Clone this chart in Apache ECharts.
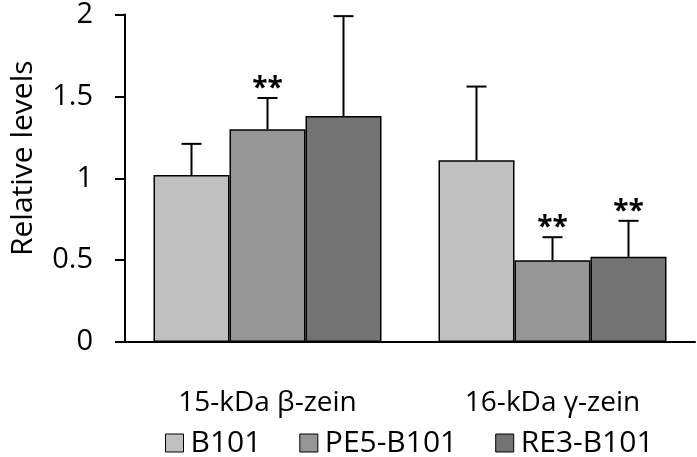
<!DOCTYPE html>
<html><head><meta charset="utf-8">
<script src="https://cdn.jsdelivr.net/npm/echarts@6/dist/echarts.min.js"></script>
<style>html,body{margin:0;padding:0;background:#fff}#c{width:697px;height:457px}</style>
</head><body><div id="c"></div>
<script>
const categories = ['15-kDa β-zein', '16-kDa γ-zein'];
const seriesNames = ['B101', 'PE5-B101', 'RE3-B101'];
const b101 = [1.02, 1.11];
const pe5 = [1.30, 0.50];
const re3 = [1.38, 0.52];
const b101Err = [0.19, 0.45];
const pe5Err = [0.19, 0.14];
const re3Err = [0.61, 0.22];
const b101Sig = ['', ''];
const pe5Sig = ['**', '**'];
const re3Sig = ['', '**'];
const yTicks = [0, 0.5, 1, 1.5, 2];

const colors = ['#c0c0c0', '#969696', '#737373'];
const vals = [b101, pe5, re3];
const errs = [b101Err, pe5Err, re3Err];
const sigs = [b101Sig, pe5Sig, re3Sig];
const FONT = 'Open Sans';

const chart = echarts.init(document.getElementById('c'));
const series = [];
vals.forEach((v, i) => {
  series.push({
    name: seriesNames[i], type: 'bar', data: v,
    barGap: 0, barCategoryGap: '20%',
    itemStyle: { color: colors[i], borderColor: '#000', borderWidth: 1.5 },
    emphasis: { disabled: true }
  });
});
vals.forEach((v, i) => {
  series.push({
    type: 'custom', silent: true, z: 5,
    data: v.map((val, k) => [k, val, errs[i][k]]),
    renderItem: function (params, api) {
      const k = api.value(0);
      const val = api.value(1);
      const e = api.value(2);
      const sig = sigs[i][k];
      const band = api.size([1, 0])[0];
      const bw = band * 0.8 / 3;
      const base = api.coord([k, val]);
      const top = api.coord([k, val + e]);
      const x = base[0] + (i - 1) * bw;
      const children = [
        { type: 'line', shape: { x1: x, y1: base[1], x2: x, y2: top[1] }, style: { stroke: '#000', lineWidth: 2 } },
        { type: 'line', shape: { x1: x - 10, y1: top[1], x2: x + 10, y2: top[1] }, style: { stroke: '#000', lineWidth: 2 } }
      ];
      if (sig) {
        children.push({ type: 'text', style: { text: sig, x: x, y: top[1] + 5, align: 'center', verticalAlign: 'bottom', font: 'bold 28px ' + FONT, fill: '#000' } });
      }
      return { type: 'group', children: children };
    }
  });
});

chart.setOption({
  animation: false,
  grid: { left: 117, right: 2, top: 13, bottom: 115, containLabel: false },
  legend: {
    data: seriesNames, top: 423, left: 160, itemWidth: 18, itemHeight: 18, itemGap: 38,
    icon: 'rect',
    itemStyle: { borderColor: '#000', borderWidth: 1 },
    textStyle: { fontFamily: FONT, fontSize: 30, color: '#000', padding: [0, 0, 0, 2] }
  },
  xAxis: {
    type: 'category', data: categories,
    axisLine: { lineStyle: { color: '#000', width: 2 } },
    axisTick: { show: false },
    axisLabel: { fontFamily: FONT, fontSize: 28, color: '#000', margin: 47 }
  },
  yAxis: {
    type: 'value', min: 0, max: 2, interval: 0.5,
    name: 'Relative levels', nameLocation: 'middle', nameGap: 87, nameRotate: 90,
    nameTextStyle: { fontFamily: FONT, fontSize: 30, color: '#000', padding: [0, 0, 0, 40] },
    axisLine: { show: true, lineStyle: { color: '#000', width: 2 } },
    axisTick: { show: true, length: 10, lineStyle: { color: '#000', width: 2 } },
    splitLine: { show: false },
    axisLabel: { fontFamily: FONT, fontSize: 29, color: '#000', margin: 32,
      formatter: v => yTicks.includes(v) ? String(v) : '' }
  },
  series: series
});
</script></body></html>
